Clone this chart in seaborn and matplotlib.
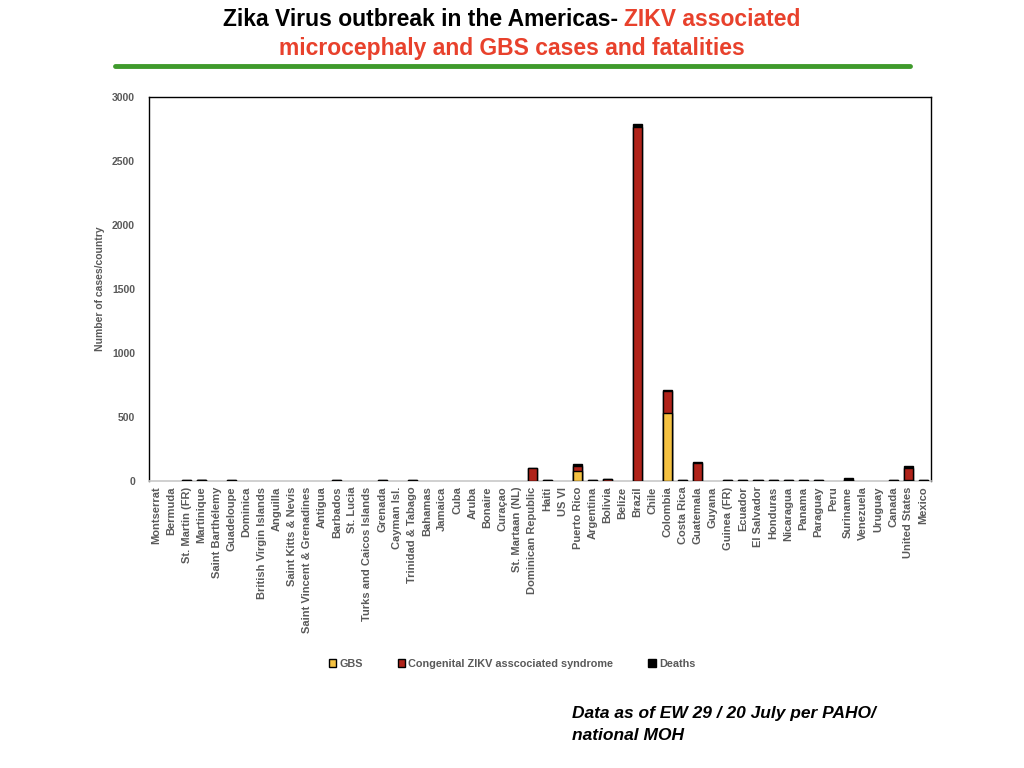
import numpy as np
import pandas as pd
import matplotlib
matplotlib.use('Agg')
import matplotlib.pyplot as plt
from matplotlib.patches import Patch
import seaborn as sns

# ── Data ──────────────────────────────────────────────────────────
countries = [
    'Montserrat', 'Bermuda', 'St. Martin (FR)', 'Martinique', 'Saint Barthélemy',
    'Guadeloupe', 'Dominica', 'British Virgin Islands', 'Anguilla',
    'Saint Kitts & Nevis', 'Saint Vincent & Grenadines', 'Antigua', 'Barbados',
    'St. Lucia', 'Turks and Caicos Islands', 'Grenada', 'Cayman Isl.',
    'Trinidad & Tabago', 'Bahamas', 'Jamaica', 'Cuba', 'Aruba', 'Bonaire',
    'Curaçao', 'St. Martaan (NL)', 'Dominican Republic', 'Haiti', 'US VI',
    'Puerto Rico', 'Argentina', 'Bolivia', 'Belize', 'Brazil', 'Chile',
    'Colombia', 'Costa Rica', 'Guatemala', 'Guyana', 'Guinea (FR)', 'Ecuador',
    'El Salvador', 'Honduras', 'Nicaragua', 'Panama', 'Paraguay', 'Peru',
    'Suriname', 'Venezuela', 'Uruguay', 'Canada', 'United States', 'Mexico',
]
gbs = [0, 0, 0, 4, 0, 0, 0, 0, 0, 0, 0, 0, 0, 0, 0, 0, 0, 0, 0, 0, 0, 0, 0,
       0, 0, 0, 0, 0, 76, 0, 0, 0, 0, 0, 534, 0, 0, 0, 0, 0, 0, 0, 0, 0, 0,
       0, 6, 0, 0, 0, 10, 0]
congenital = [0, 0, 7, 4, 0, 7, 0, 0, 0, 0, 0, 0, 7, 0, 0, 7, 0, 7, 0, 0, 0,
              0, 0, 0, 0, 98, 7, 0, 44, 7, 14, 0, 2765, 0, 170, 7, 140, 0, 7,
              7, 7, 7, 7, 7, 7, 0, 4, 0, 0, 7, 95, 7]
deaths = [0, 0, 0, 0, 0, 0, 0, 0, 0, 0, 0, 0, 0, 0, 0, 0, 0, 0, 0, 0, 0, 0,
          0, 0, 0, 2, 0, 0, 10, 0, 2, 0, 25, 0, 4, 0, 5, 0, 0, 0, 0, 0, 0, 0,
          0, 0, 10, 0, 0, 0, 10, 0]

GBS_C = '#F5C242'
CZS_C = '#B0231A'
DEATH_C = '#000000'
GRAY = '#595959'
RED_T = '#E8412C'

df = pd.DataFrame({'country': countries, 'gbs': gbs,
                   'congenital': congenital, 'deaths': deaths})
df['lvl1'] = df['gbs']
df['lvl2'] = df['gbs'] + df['congenital']
df['lvl3'] = df['lvl2'] + df['deaths']

sns.set_style('white')
plt.rcParams['font.family'] = ['Liberation Sans', 'DejaVu Sans']

fig = plt.figure(figsize=(10.24, 7.68), dpi=100)
ax = fig.add_axes([0.1455, 0.3737, 0.7636, 0.5])

# stacked bars drawn as layered cumulative totals
for col, color in [('lvl3', DEATH_C), ('lvl2', CZS_C), ('lvl1', GBS_C)]:
    sns.barplot(data=df, x='country', y=col, color=color, width=0.6,
                edgecolor='black', linewidth=1, ax=ax, saturation=1)
# keep the bars above the grey base line, hide empty ones
for i, p in enumerate(ax.patches):
    p.set_zorder(3 + i / 1000)
    if p.get_height() <= 0:
        p.set_visible(False)

ax.set_ylim(0, 3000)
ax.set_yticks(range(0, 3001, 500))
ax.set_xlim(-0.5, len(countries) - 0.5)
ax.set_xlabel('')
ax.set_ylabel('Number of cases/country', fontsize=7.5, fontweight='bold',
              color=GRAY, labelpad=5)
ax.tick_params(axis='y', labelsize=7.5, colors=GRAY, length=0, pad=10)
for t in ax.get_yticklabels():
    t.set_fontweight('bold')
ax.tick_params(axis='x', labelsize=8.0, colors=GRAY, length=0, pad=4)
ax.set_xticks(range(len(countries)))
ax.set_xticklabels(countries, rotation=90)
for t in ax.get_xticklabels():
    t.set_fontweight('bold')

for side in ['left', 'top', 'right']:
    ax.spines[side].set_color('black')
    ax.spines[side].set_linewidth(1)
ax.spines['bottom'].set_color('#C8C8C8')
ax.spines['bottom'].set_linewidth(1.2)

handles = [Patch(facecolor=GBS_C, edgecolor='black', label='GBS'),
           Patch(facecolor=CZS_C, edgecolor='black',
                 label='Congenital ZIKV asscociated syndrome'),
           Patch(facecolor=DEATH_C, edgecolor='black', label='Deaths')]
leg = fig.legend(handles=handles, loc='center', bbox_to_anchor=(0.5, 0.136),
                 ncol=3, frameon=False, fontsize=7.8, handlelength=0.7,
                 handleheight=0.7, handletextpad=0.3, columnspacing=3.2)
for t in leg.get_texts():
    t.set_color(GRAY)
    t.set_fontweight('bold')

# title: first line in two colours, centred as a whole
part1 = 'Zika Virus outbreak in the Americas- '
part2 = 'ZIKV associated'
ty1 = 0.979 + 8 / 768
t1 = fig.text(0, ty1, part1, ha='left', va='top', fontsize=16.5,
              fontweight='bold', color='black')
t2 = fig.text(0, ty1, part2, ha='left', va='top', fontsize=16.5,
              fontweight='bold', color=RED_T)
fig.canvas.draw()
r = fig.canvas.get_renderer()
w1 = t1.get_window_extent(r).width / fig.bbox.width
w2 = t2.get_window_extent(r).width / fig.bbox.width
x0 = 0.5 - (w1 + w2) / 2
t1.set_x(x0)
t2.set_x(x0 + w1)
fig.text(0.5, 0.941 + 8 / 768, 'microcephaly and GBS cases and fatalities',
         ha='center', va='top', fontsize=16.5, fontweight='bold', color=RED_T)
fig.add_artist(plt.Line2D([0.112, 0.889], [0.914, 0.914], color='#3F9A2C',
                          linewidth=3.5, transform=fig.transFigure))

fig.text(0.559, 0.033, 'Data as of EW 29 / 20 July per PAHO/\nnational MOH',
         ha='left', va='bottom', fontsize=12.5, fontweight='bold',
         style='italic', color='black', linespacing=1.55)

plt.savefig('out.png', dpi=100)
